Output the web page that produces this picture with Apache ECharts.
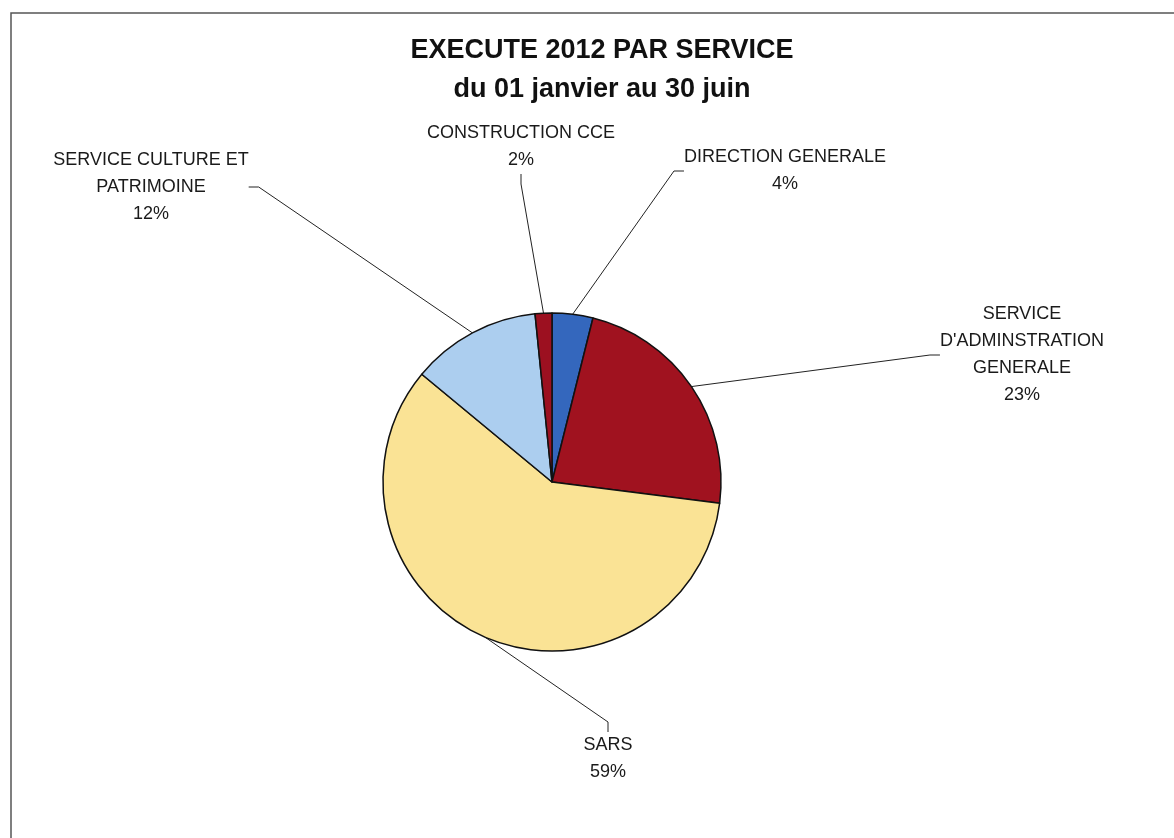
<!DOCTYPE html>
<html>
<head>
<meta charset="utf-8">
<script src="https://cdn.jsdelivr.net/npm/echarts@6/dist/echarts.min.js"></script>
<style>
  html, body { margin: 0; padding: 0; background: #fff; }
  #chart { width: 1174px; height: 838px; }
</style>
</head>
<body>
<div id="chart"></div>
<script>
// services, clockwise from 12 o'clock
var services = [
  'DIRECTION GENERALE',
  'SERVICE\nD\'ADMINSTRATION\nGENERALE',
  'SARS',
  'SERVICE CULTURE ET\nPATRIMOINE',
  'CONSTRUCTION CCE'
];
var shares = [3.9, 23.1, 59.0, 12.4, 1.6];
var colors = ['#3467bd', '#a0121f', '#fae395', '#acceef', '#9c1020'];

// where each label block sits (centre, px)
var labelSpots = [[785, 171], [1022, 355], [608, 759], [151, 187], [521, 147]];

var chart = echarts.init(document.getElementById('chart'));

var pieData = services.map(function (name, i) {
  return { name: name, value: shares[i], itemStyle: { color: colors[i] } };
});

chart.setOption({
  animation: false,
  title: {
    text: 'EXECUTE 2012 PAR SERVICE\ndu 01 janvier au 30 juin',
    left: 597,
    top: 26,
    textAlign: 'center',
    textStyle: {
      fontFamily: 'Liberation Sans',
      fontWeight: 'bold',
      fontSize: 27,
      lineHeight: 39,
      color: '#111'
    }
  },
  graphic: [{
    type: 'polyline',
    shape: { points: [[11, 838], [11, 13], [1174, 13]] },
    style: { stroke: '#555', lineWidth: 1.5, fill: null }
  }],
  series: [{
    type: 'pie',
    center: [552, 482],
    radius: 169,
    startAngle: 90,
    clockwise: true,
    avoidLabelOverlap: false,
    data: pieData,
    itemStyle: { borderColor: '#111', borderWidth: 1.5 },
    label: {
      show: true,
      position: 'outside',
      fontFamily: 'Liberation Sans',
      fontSize: 18,
      lineHeight: 27,
      color: '#1a1a1a',
      align: 'center',
      formatter: function (p) {
        return p.name + '\n' + Math.round(p.percent) + '%';
      }
    },
    labelLine: {
      show: true,
      length: 20,
      length2: 10,
      lineStyle: { color: '#222', width: 1 }
    },
    labelLayout: function (params) {
      var s = labelSpots[params.dataIndex];
      return { x: s[0], y: s[1], align: 'center', verticalAlign: 'middle' };
    },
    emphasis: { disabled: true }
  }]
});
</script>
</body>
</html>
